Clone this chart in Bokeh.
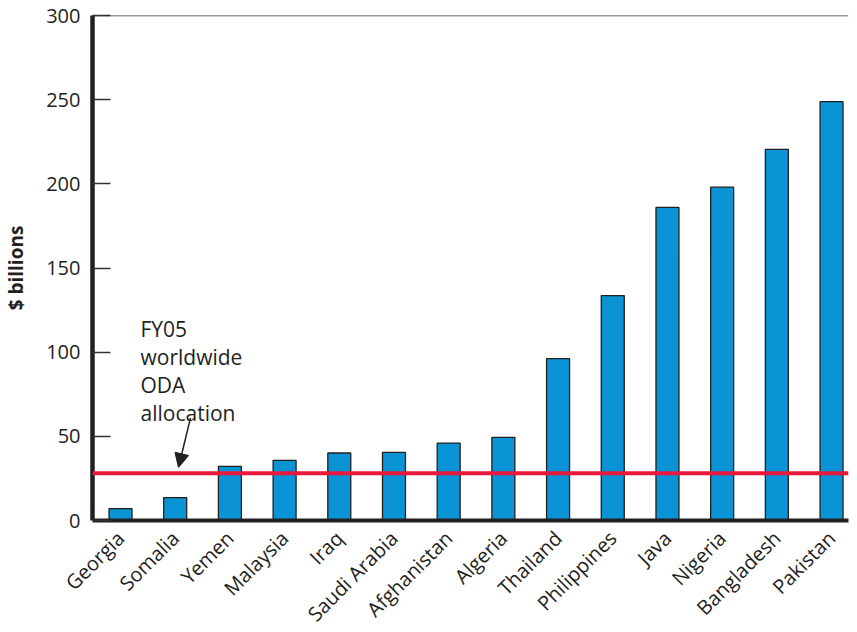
import math
from bokeh.plotting import figure
from bokeh.models import Range1d, FixedTicker, Span, Label, Arrow, NormalHead, ColumnDataSource
from bokeh.embed import file_html
from bokeh.resources import INLINE

countries = ["Georgia", "Somalia", "Yemen", "Malaysia", "Iraq", "Saudi Arabia",
             "Afghanistan", "Algeria", "Thailand", "Philippines", "Java", "Nigeria",
             "Bangladesh", "Pakistan"]
values = [7.1, 13.6, 32.2, 35.7, 40.1, 40.5, 46.0, 49.4, 96.2, 133.6, 186.0, 198.0, 220.5, 248.8]
oda_allocation = 28
y_ticks = [0, 50, 100, 150, 200, 250, 300]
annotation_text = "FY05\nworldwide\nODA\nallocation"

FONT = "Open Sans"
DARK = "#231f20"

positions = list(range(len(countries)))
source = ColumnDataSource(data=dict(x=positions, top=values, name=countries))

p = figure(frame_width=756, frame_height=505, output_backend="svg", toolbar_location=None,
           x_range=Range1d(-0.512, 13.31), y_range=Range1d(0, 300),
           min_border_left=87, min_border_top=15, min_border_right=1, min_border_bottom=100)
p.outline_line_color = None
p.xgrid.visible = False
p.ygrid.visible = False
p.background_fill_color = "white"

p.vbar(x="x", top="top", width=0.42, source=source,
       fill_color="#0a94d6", line_color=DARK, line_width=1.3)

p.add_layout(Span(location=oda_allocation, dimension="width",
                  line_color="#e8193c", line_width=4))
p.add_layout(Span(location=300, dimension="width", line_color="#333333", line_width=1.5))

xa = p.xaxis[0]
xa.ticker = FixedTicker(ticks=positions)
xa.major_label_overrides = {i: c for i, c in zip(positions, countries)}
xa.major_label_orientation = math.pi / 4
xa.major_tick_in = 0
xa.major_tick_out = 0
xa.minor_tick_in = 0
xa.minor_tick_out = 0
xa.axis_line_width = 4
xa.axis_line_color = DARK
xa.major_label_text_font = FONT
xa.major_label_text_font_size = "20px"
xa.major_label_text_color = DARK
xa.major_label_standoff = 14

ya = p.yaxis[0]
ya.ticker = FixedTicker(ticks=y_ticks)
ya.major_tick_in = 18
ya.major_tick_out = 0
ya.major_tick_line_color = "#333333"
ya.major_tick_line_width = 1.5
ya.minor_tick_in = 0
ya.minor_tick_out = 0
ya.axis_line_width = 4.5
ya.axis_line_color = DARK
ya.major_label_text_font = FONT
ya.major_label_text_font_size = "20px"
ya.major_label_text_color = DARK
ya.major_label_standoff = 12
ya.axis_label = "$ billions"
ya.axis_label_text_font = FONT
ya.axis_label_text_font_size = "19px"
ya.axis_label_text_font_style = "bold"
ya.axis_label_text_color = DARK
ya.axis_label_standoff = 14

p.add_layout(Label(x=0.366, y=122, text=annotation_text, text_baseline="top",
                   text_font=FONT, text_font_size="21px", text_color=DARK,
                   text_line_height=1.0))
p.add_layout(Arrow(end=NormalHead(size=14, fill_color=DARK, line_color=DARK),
                   x_start=1.28, y_start=61, x_end=1.06, y_end=31.5,
                   line_color=DARK, line_width=1.5))

open("out.html", "w").write(file_html(p, INLINE))
